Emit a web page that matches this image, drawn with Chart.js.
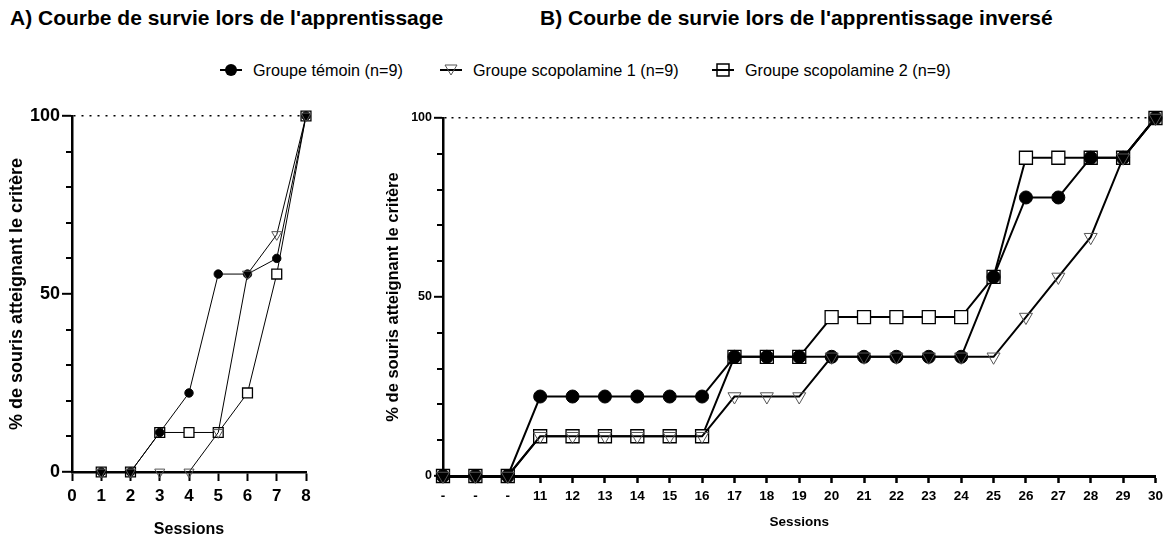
<!DOCTYPE html>
<html lang="fr">
<head>
<meta charset="utf-8">
<script src="https://cdn.jsdelivr.net/npm/chart.js@4/dist/chart.umd.min.js"></script>
<style>
  html, body { margin: 0; padding: 0; background: #fff; }
  body { width: 1168px; height: 539px; position: relative; overflow: hidden;
         font-family: "Liberation Sans", Arial, sans-serif; color: #000; }
  .titre { position: absolute; top: 6px; font-weight: bold; font-size: 21px; white-space: nowrap; }
  #legende { position: absolute; top: 59px; left: 0; height: 22px; font-size: 16.2px; }
  .item { position: absolute; top: 0; height: 22px; display: flex; align-items: center; white-space: nowrap; }
  .item svg { margin-right: 11px; }
  .boite { position: absolute; }
</style>
</head>
<body>
<div class="titre" style="left:10px">A) Courbe de survie lors de l'apprentissage</div>
<div class="titre" style="left:540px">B) Courbe de survie lors de l'apprentissage inversé</div>
<div id="legende"></div>
<div class="boite" style="left:0;top:90px;width:330px;height:449px"><canvas id="courbeA"></canvas></div>
<div class="boite" style="left:360px;top:90px;width:808px;height:449px"><canvas id="courbeB"></canvas></div>
<script>
// groupes
var groupes = ["Groupe témoin (n=9)", "Groupe scopolamine 1 (n=9)", "Groupe scopolamine 2 (n=9)"];

// A) apprentissage : sessions 1 à 8
var sessionsA = [1, 2, 3, 4, 5, 6, 7, 8];
var temoinA = [0, 0, 11.1, 22.2, 55.6, 55.6, 60, 100];
var scopo1A = [0, 0, 0, 0, 11.1, 55.6, 66.7, 100];
var scopo2A = [0, 0, 11.1, 11.1, 11.1, 22.2, 55.6, 100];

// B) apprentissage inversé
var sessionsB = ["-", "-", "-", "11", "12", "13", "14", "15", "16", "17", "18", "19", "20",
                 "21", "22", "23", "24", "25", "26", "27", "28", "29", "30"];
var temoinB = [0, 0, 0, 22.2, 22.2, 22.2, 22.2, 22.2, 22.2, 33.3, 33.3, 33.3, 33.3,
               33.3, 33.3, 33.3, 33.3, 55.6, 77.8, 77.8, 88.9, 88.9, 100];
var scopo1B = [0, 0, 0, 11.1, 11.1, 11.1, 11.1, 11.1, 11.1, 22.2, 22.2, 22.2, 33.3,
               33.3, 33.3, 33.3, 33.3, 33.3, 44.4, 55.6, 66.7, 88.9, 100];
var scopo2B = [0, 0, 0, 11.1, 11.1, 11.1, 11.1, 11.1, 11.1, 33.3, 33.3, 33.3, 44.4,
               44.4, 44.4, 44.4, 44.4, 55.6, 88.9, 88.9, 88.9, 88.9, 100];

var ticksY = [0, 50, 100];

var police = "'Liberation Sans', Arial, sans-serif";

// petites graduations de l'axe Y (tous les 10 %)
var graduations = {
  id: 'graduations',
  afterDraw: function(chart, args, opts) {
    var y = chart.scales.y, c = chart.ctx;
    c.save();
    c.strokeStyle = '#000';
    c.lineWidth = opts.largeur;
    for (var v = 10; v < 100; v += 10) {
      if (v === 50) continue;
      var py = Math.round(y.getPixelForValue(v));
      c.beginPath();
      c.moveTo(y.right - opts.longueur, py);
      c.lineTo(y.right, py);
      c.stroke();
    }
    c.restore();
  }
};

function paires(xs, ys) {
  return ys.map(function(v, i) { return {x: xs[i], y: v}; });
}

// apparence des trois groupes (cercle plein, triangle vide, carré vide)
function styles(epais, rC, rT, rS) {
  return [
    {pointStyle: 'circle', pointRadius: rC, pointBackgroundColor: '#000', pointBorderColor: '#000',
     pointBorderWidth: 1, borderColor: '#000', borderWidth: epais, order: 1},
    {pointStyle: 'triangle', pointRotation: 180, pointRadius: rT, pointBackgroundColor: 'rgba(0,0,0,0)',
     pointBorderColor: '#555', pointBorderWidth: 1, borderColor: '#000', borderWidth: epais, order: 0},
    {pointStyle: 'rect', pointRadius: rS, pointBackgroundColor: '#fff', pointBorderColor: '#000',
     pointBorderWidth: 1.3, borderColor: '#000', borderWidth: epais, order: 2}
  ];
}

function axeY(largeur, taille, titreTaille, longueur, pointille) {
  return {
    min: 0, max: 100,
    afterFit: function(s) { s.width = largeur; },
    afterBuildTicks: function(s) { s.ticks = ticksY.map(function(v) { return {value: v}; }); },
    ticks: {color: '#000', padding: 2, font: {family: police, size: taille, weight: 'bold'}},
    grid: {
      drawOnChartArea: true,
      color: function(ctx) { return ctx.tick && ctx.tick.value === 100 ? '#000' : 'rgba(0,0,0,0)'; },
      lineWidth: 1.6,
      tickColor: '#000', tickWidth: 2, tickLength: longueur
    },
    border: {color: '#000', width: 2.5, dash: pointille},
    title: {display: true, text: '% de souris atteignant le critère', color: '#000',
            padding: {top: 4, bottom: 4},
            font: {family: police, size: titreTaille, weight: 'bold'}}
  };
}

// A) apprentissage
var sA = styles(1, 4.2, 5.8, 7);
new Chart(document.getElementById('courbeA'), {
  type: 'line',
  data: {
    datasets: [temoinA, scopo1A, scopo2A].map(function(serie, i) {
      return Object.assign({label: groupes[i], data: paires(sessionsA, serie), clip: false,
                            tension: 0, fill: false}, sA[i]);
    })
  },
  options: {
    responsive: true,
    maintainAspectRatio: false,
    animation: false,
    layout: {padding: {left: 2, top: 26, right: 24, bottom: 0}},
    plugins: {legend: {display: false}, tooltip: {enabled: false},
              graduations: {longueur: 6, largeur: 2}},
    scales: {
      x: {
        type: 'linear', min: 0, max: 8,
        afterFit: function(s) { s.height = 67; },
        ticks: {stepSize: 1, color: '#000', padding: 5,
                font: {family: police, size: 17, weight: 'bold'}},
        grid: {drawOnChartArea: false, tickColor: '#000', tickWidth: 2, tickLength: 9},
        border: {color: '#000', width: 2.5},
        title: {display: true, text: 'Sessions', color: '#000', padding: {top: 0, bottom: 0},
                font: {family: police, size: 16, weight: 'bold'}}
      },
      y: axeY(70, 18, 18, 10, [2, 6])
    }
  },
  plugins: [graduations]
});

// B) apprentissage inversé
var sB = styles(2, 6.5, 7.5, 9.2);
new Chart(document.getElementById('courbeB'), {
  type: 'line',
  data: {
    labels: sessionsB,
    datasets: [temoinB, scopo1B, scopo2B].map(function(serie, i) {
      return Object.assign({label: groupes[i], data: serie, clip: false,
                            tension: 0, fill: false}, sB[i]);
    })
  },
  options: {
    responsive: true,
    maintainAspectRatio: false,
    animation: false,
    layout: {padding: {left: 20, top: 28, right: 8, bottom: 0}},
    plugins: {legend: {display: false}, tooltip: {enabled: false},
              graduations: {longueur: 6, largeur: 2}},
    scales: {
      x: {
        type: 'category', offset: false,
        afterFit: function(s) { s.height = 63; },
        ticks: {color: '#000', padding: 5, autoSkip: false, maxRotation: 0,
                font: {family: police, size: 13.5, weight: 'bold'}},
        grid: {drawOnChartArea: false, offset: false, tickColor: '#000', tickWidth: 2.5, tickLength: 7},
        border: {color: '#000', width: 3},
        title: {display: true, text: 'Sessions', color: '#000', padding: {top: 0, bottom: 9},
                font: {family: police, size: 13.5, weight: 'bold'}}
      },
      y: axeY(63, 12.5, 16.5, 9, [2, 5])
    }
  },
  plugins: [graduations]
});

// légende commune
var legende = document.getElementById('legende');
var positions = [220, 440, 712];
var symboles = [
  '<circle cx="11" cy="11" r="6" fill="#000"/>',
  '<path d="M5 6 L17 6 L11 16 Z" fill="none" stroke="#555" stroke-width="1"/>',
  '<rect x="5" y="5" width="12" height="12" fill="#fff" stroke="#000" stroke-width="1.5"/>'
];
groupes.forEach(function(nom, i) {
  var d = document.createElement('div');
  d.className = 'item';
  d.style.left = positions[i] + 'px';
  d.innerHTML = '<svg width="22" height="22"><line x1="0" y1="11" x2="22" y2="11" stroke="#000" stroke-width="2"/>' +
                symboles[i] + (i === 2 ? '<line x1="5" y1="11" x2="17" y2="11" stroke="#000" stroke-width="2"/>' : '') +
                '</svg><span>' + nom + '</span>';
  legende.appendChild(d);
});
</script>
</body>
</html>
